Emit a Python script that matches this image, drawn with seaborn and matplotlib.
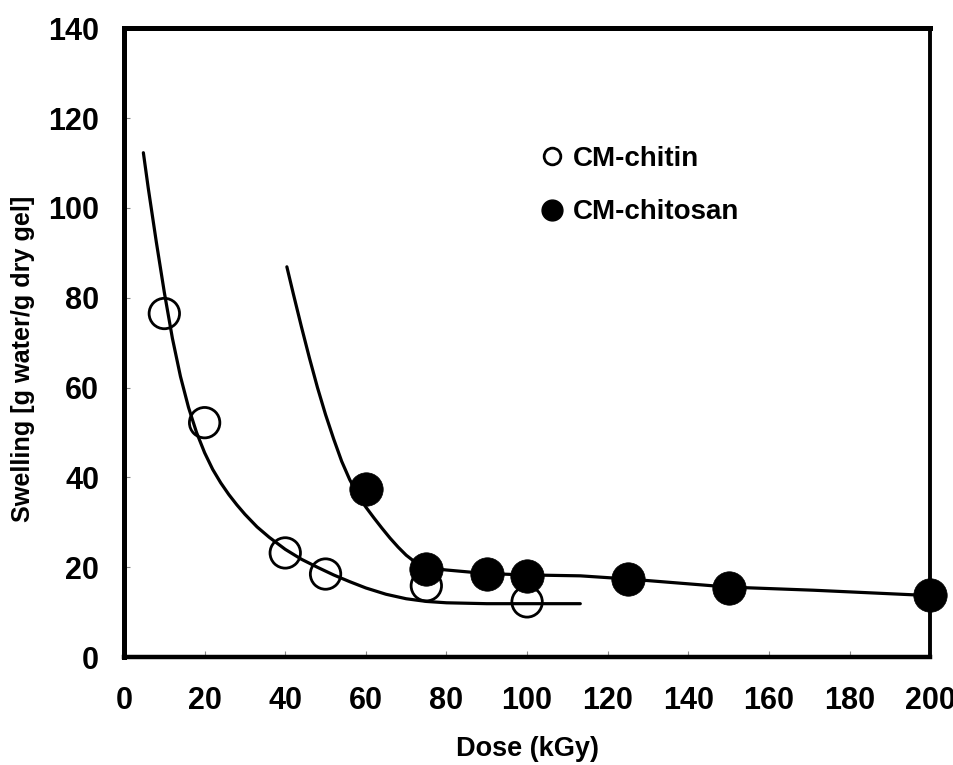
import matplotlib
matplotlib.use("Agg")
import matplotlib.pyplot as plt
from matplotlib.lines import Line2D
import seaborn as sns
import pandas as pd

# Measured points
chitin_dose = [10, 20, 40, 50, 75, 100]
chitin_swell = [76.5, 52.2, 23.2, 18.5, 15.9, 12.3]
chitosan_dose = [60, 75, 90, 100, 125, 150, 200]
chitosan_swell = [37.5, 19.7, 18.5, 18.0, 17.4, 15.5, 13.8]

# Fitted curves
chitin_fit_x = [4.8, 6, 8, 10, 12, 14, 16, 18, 20, 22, 24, 26, 28, 30, 33, 36, 40, 44, 48,
                52, 56, 60, 65, 70, 75, 80, 90, 100, 113.2]
chitin_fit_y = [112.3, 104.5, 92.5, 81.2, 71.0, 62.5, 55.6, 50.0, 45.5, 41.8, 38.8, 36.2,
                33.9, 31.8, 29.0, 26.7, 24.0, 21.8, 20.0, 18.3, 16.8, 15.4, 14.0, 13.0,
                12.4, 12.1, 11.9, 11.9, 11.9]
chitosan_fit_x = [40.4, 42, 44, 46, 48, 50, 52, 54, 56, 58, 60, 62, 64, 66, 68, 70, 72, 74,
                  76, 78, 80, 85, 90, 100, 113.2, 125, 150, 171, 200]
chitosan_fit_y = [86.9, 80.9, 73.6, 66.6, 60.0, 54.0, 48.6, 43.6, 39.5, 36.2, 33.4, 31.0,
                  28.7, 26.5, 24.5, 22.7, 21.3, 20.4, 19.9, 19.6, 19.4, 19.0, 18.6, 18.3,
                  18.1, 17.4, 15.6, 14.9, 13.7]

series_names = ["CM-chitin", "CM-chitosan"]
x_ticks = [0, 20, 40, 60, 80, 100, 120, 140, 160, 180, 200]
y_ticks = [0, 20, 40, 60, 80, 100, 120, 140]

sns.set_theme(style="white")
plt.rcParams['font.family'] = ['Liberation Sans', 'DejaVu Sans']
plt.rcParams['font.weight'] = 'bold'
plt.rcParams['text.color'] = 'black'
plt.rcParams['axes.labelcolor'] = 'black'
plt.rcParams['xtick.labelcolor'] = 'black'
plt.rcParams['ytick.labelcolor'] = 'black'

fig = plt.figure(figsize=(9.54, 7.65), dpi=100)
ax = fig.add_axes([0.130, 0.141, 0.845, 0.822])

df_chitin_fit = pd.DataFrame({"x": chitin_fit_x, "y": chitin_fit_y})
df_chitosan_fit = pd.DataFrame({"x": chitosan_fit_x, "y": chitosan_fit_y})
sns.lineplot(data=df_chitin_fit, x="x", y="y", ax=ax, color="black", lw=2.3,
             sort=False, estimator=None, legend=False)
sns.lineplot(data=df_chitosan_fit, x="x", y="y", ax=ax, color="black", lw=2.3,
             sort=False, estimator=None, legend=False)

df_chitin = pd.DataFrame({"x": chitin_dose, "y": chitin_swell})
df_chitosan = pd.DataFrame({"x": chitosan_dose, "y": chitosan_swell})
sns.scatterplot(data=df_chitin, x="x", y="y", ax=ax, s=480, facecolor="none",
                edgecolor="black", linewidth=2.0, zorder=3, clip_on=False)
sns.scatterplot(data=df_chitosan, x="x", y="y", ax=ax, s=580, color="black",
                edgecolor="black", linewidth=0.5, zorder=4, clip_on=False)

# Legend
handles = [
    Line2D([], [], marker="o", ls="none", ms=12, mfc="white", mec="black", mew=2.0),
    Line2D([], [], marker="o", ls="none", ms=15, mfc="black", mec="black"),
]
leg = ax.legend(handles, series_names, loc="upper left", bbox_to_anchor=(0.5, 0.831),
                frameon=False, fontsize=20, handletextpad=0.25, labelspacing=1.0,
                handlelength=1.0, borderaxespad=0)
for t in leg.get_texts():
    t.set_fontweight("bold")
    t.set_color("black")

ax.set_xlim(0, 200)
ax.set_ylim(0, 140)
ax.set_xticks(x_ticks)
ax.set_yticks(y_ticks)
ax.set_xticklabels([str(v) for v in x_ticks], fontsize=22, fontweight="bold")
ax.set_yticklabels([str(v) for v in y_ticks], fontsize=22, fontweight="bold")
ax.tick_params(axis="both", direction="in", length=4, width=0.8, color="#888888",
               labelcolor="black", bottom=True, left=True)
ax.tick_params(axis="x", pad=21)
ax.tick_params(axis="y", pad=18)
ax.set_xlabel("Dose (kGy)", fontsize=19.5, fontweight="bold", labelpad=14, color="black")
ax.set_ylabel("Swelling [g water/g dry gel]", fontsize=18.2, fontweight="bold", color="black")
ax.yaxis.set_label_coords(-0.110, 0.474)

for side, w in {"left": 3.6, "top": 3.6, "right": 2.8, "bottom": 3.2}.items():
    ax.spines[side].set_visible(True)
    ax.spines[side].set_color("black")
    ax.spines[side].set_linewidth(w)

ax.grid(False)
fig.savefig("out.png", dpi=100)
